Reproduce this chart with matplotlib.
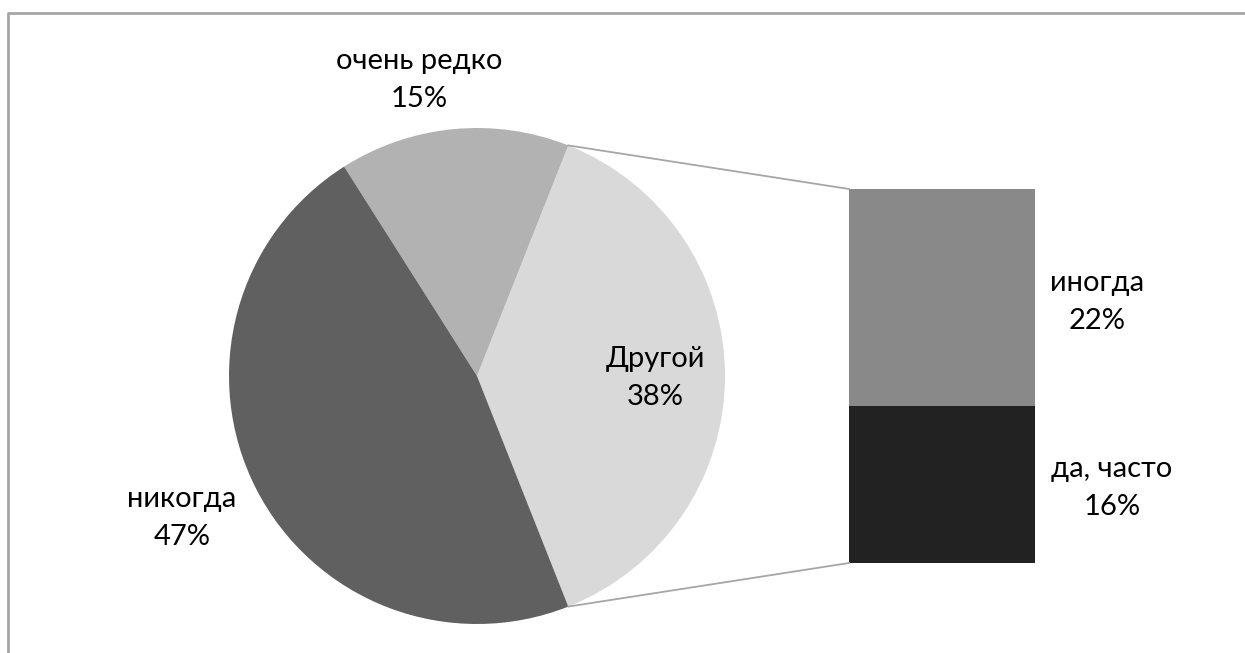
import matplotlib.pyplot as plt
import numpy as np

# доли для круга (вторичная часть собрана в "Другой")
pie_labels = ['Другой', 'очень редко', 'никогда']
pie_values = [38, 15, 47]
pie_colors = ['#d9d9d9', '#b2b2b2', '#606060']

# разбивка "Другой" для столбца справа (снизу вверх)
bar_labels = ['да, часто', 'иногда']
bar_values = [16, 22]
bar_colors = ['#222222', '#898989']

plt.rcParams['font.family'] = ['Lato', 'DejaVu Sans']

W, H = 1245, 653
fig = plt.figure(figsize=(W / 100, H / 100), dpi=100)
ax = fig.add_axes([0, 0, 1, 1])

# рамка области диаграммы (видны только верх и левый край)
ax.plot([8, 8, W], [0, H - 13, H - 13], color='#a6a6a6', lw=2, solid_capstyle='butt')

cx, cy, r = 477, H - 376, 248
start = -pie_values[0] / 100 * 360 / 2
wedges, _ = ax.pie(pie_values, colors=pie_colors, startangle=start,
                   center=(cx, cy), radius=r, wedgeprops={'linewidth': 0},
                   frame=True)
ax.set_xlim(0, W)
ax.set_ylim(0, H)
ax.axis('off')

# столбец вторичной диаграммы
bx0, bx1 = 849, 1035
bar_bottom, bar_top = H - 563, H - 189
scale = (bar_top - bar_bottom) / sum(bar_values)
bottom = bar_bottom
for val, col in zip(bar_values, bar_colors):
    ax.bar(bx0, val * scale, width=bx1 - bx0, bottom=bottom, align='edge',
           color=col, linewidth=0)
    bottom += val * scale

# соединительные линии от краёв сектора "Другой" к столбцу
w0 = wedges[0]
for ang, by in [(w0.theta2, bar_top), (w0.theta1, bar_bottom)]:
    px = cx + r * np.cos(np.radians(ang))
    py = cy + r * np.sin(np.radians(ang))
    ax.plot([px, bx0], [py, by], color='#a6a6a6', lw=1.3)

fs = 21
lbl_pos = {
    'Другой': (655, H - 378),
    'очень редко': (419, H - 80),
    'никогда': (182, H - 518),
}
for lab, val in zip(pie_labels, pie_values):
    x, y = lbl_pos[lab]
    ax.text(x, y, f'{lab}\n{val}%', ha='center', va='center', fontsize=fs,
            linespacing=1.6, color='black')

bar_lbl_pos = {'иногда': (1097, H - 302), 'да, часто': (1112, H - 488)}
for lab, val in zip(bar_labels, bar_values):
    x, y = bar_lbl_pos[lab]
    ax.text(x, y, f'{lab}\n{val}%', ha='center', va='center', fontsize=fs,
            linespacing=1.6, color='black')

fig.savefig('out.png', dpi=100, facecolor='white')
